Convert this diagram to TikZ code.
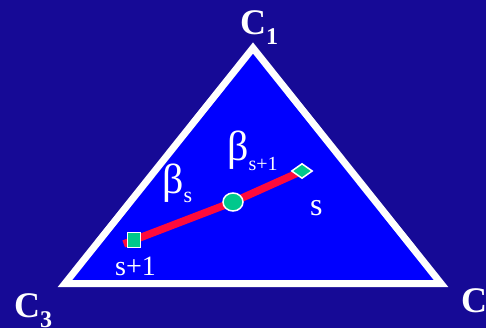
\documentclass[tikz,border=0pt]{standalone}
\usepackage{fontspec}
\setmainfont{Liberation Serif}
\usetikzlibrary{shapes.geometric}
\definecolor{slidebg}{RGB}{22,10,150}
\definecolor{simplexblue}{RGB}{0,0,255}
\definecolor{pathred}{RGB}{255,10,60}
\definecolor{pointgreen}{RGB}{0,200,140}
\begin{document}
\begin{tikzpicture}[
    x=1pt, y=-1pt,
    corner/.style={text=white, font=\fontsize{36}{36}\selectfont\bfseries, inner sep=0pt, anchor=base west},
    lbl/.style={text=white, inner sep=0pt, anchor=base west},
    point/.style={fill=pointgreen, draw=white, line width=1.5pt, inner sep=0pt},
    edge/.style={draw=white, line width=7pt, line join=miter}
]
\fill[slidebg] (0,0) rectangle (486,328);
\useasboundingbox (0,0) rectangle (486,328);
% simplex corners
\coordinate (c1) at (253,48);
\coordinate (c2) at (441,283.5);
\coordinate (c3) at (65,283.5);
\filldraw[edge, fill=simplexblue] (c1) -- (c2) -- (c3) -- cycle;
\node[corner] (lc1) at (240,35) {C\raisebox{-10pt}{\fontsize{24}{24}\selectfont 1}};
\node[corner] (lc2) at (461,312) {C\raisebox{-10pt}{\fontsize{24}{24}\selectfont 2}};
\node[corner] (lc3) at (14,317) {C\raisebox{-10pt}{\fontsize{24}{24}\selectfont 3}};
% search points
\coordinate (ps1) at (134,240);
\coordinate (pm) at (233,202);
\coordinate (ps) at (302,171);
\draw[pathred, line width=7.5pt, shorten <=-11pt] (ps1) -- (pm) -- (ps);
\node[point, rectangle, minimum width=13pt, minimum height=15pt] (sq) at (ps1) {};
\node[point, ellipse, minimum width=20pt, minimum height=18pt] (mid) at (pm) {};
\node[point, diamond, minimum width=21pt, minimum height=15pt] (dia) at (ps) {};
% labels
\node[lbl, font=\fontsize{42}{42}\selectfont] (bs) at (162,194) {β\raisebox{-9pt}{\fontsize{22}{22}\selectfont s}};
\node[lbl, font=\fontsize{42}{42}\selectfont] (bs1) at (227,161) {β\raisebox{-10pt}{\fontsize{20}{20}\selectfont s+1}};
\node[lbl, font=\fontsize{32}{32}\selectfont] (ls) at (310,215) {s};
\node[lbl, font=\fontsize{28}{28}\selectfont] (ls1) at (115,275) {s+1};
\end{tikzpicture}
\end{document}
